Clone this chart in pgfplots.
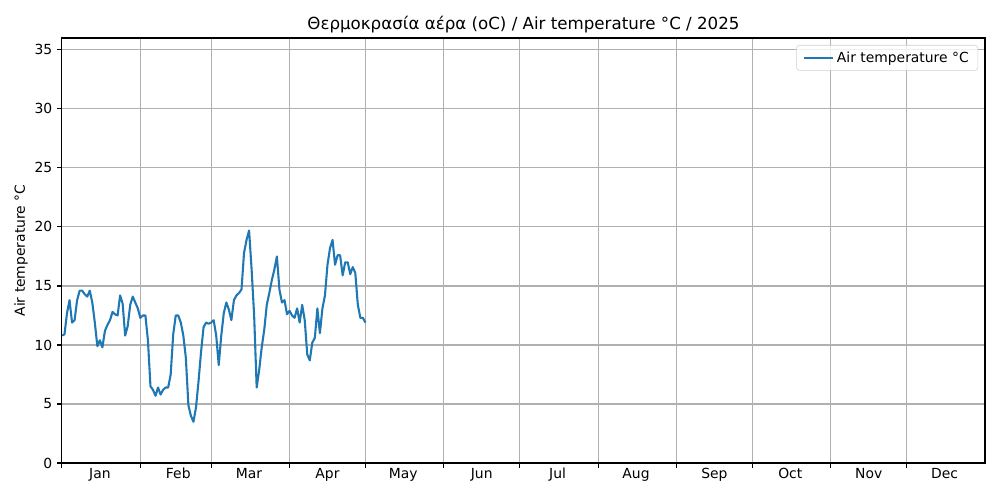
\documentclass[border=0pt]{standalone}
\usepackage{fontspec}
\setmainfont{DejaVu Sans}
\usepackage{pgfplots}
\pgfplotsset{compat=1.18}
\definecolor{mplblue}{HTML}{1F77B4}
\definecolor{gridgray}{HTML}{B0B0B0}

% daily air temperature, day of year (0 = 1 Jan)
\pgfplotstableread{
d t
0 10.8
1 10.9
2 12.7
3 13.8
4 11.9
5 12.1
6 13.8
7 14.6
8 14.6
9 14.3
10 14.1
11 14.6
12 13.6
13 11.9
14 9.9
15 10.4
16 9.8
17 11.2
18 11.7
19 12.1
20 12.8
21 12.6
22 12.5
23 14.2
24 13.5
25 10.8
26 11.6
27 13.4
28 14.1
29 13.6
30 13.1
31 12.3
32 12.5
33 12.5
34 10.4
35 6.5
36 6.2
37 5.7
38 6.4
39 5.8
40 6.2
41 6.4
42 6.4
43 7.5
44 10.9
45 12.5
46 12.5
47 11.9
48 10.8
49 8.9
50 4.9
51 4.0
52 3.5
53 4.7
54 6.9
55 9.4
56 11.5
57 11.9
58 11.8
59 11.9
60 12.1
61 10.8
62 8.3
63 10.8
64 12.7
65 13.6
66 13.0
67 12.1
68 13.8
69 14.2
70 14.4
71 14.7
72 17.8
73 18.9
74 19.7
75 16.4
76 12.5
77 6.4
78 7.9
79 9.8
80 11.3
81 13.4
82 14.4
83 15.5
84 16.4
85 17.5
86 14.7
87 13.6
88 13.8
89 12.6
90 12.9
91 12.5
92 12.3
93 13.1
94 11.9
95 13.4
96 12.1
97 9.2
98 8.7
99 10.2
100 10.6
101 13.1
102 11.0
103 13.1
104 14.2
105 16.8
106 18.2
107 18.9
108 16.8
109 17.6
110 17.6
111 15.9
112 17.0
113 17.0
114 16.0
115 16.6
116 16.1
117 13.4
118 12.3
119 12.3
120 11.9
}\temps

\begin{document}
\begin{tikzpicture}
\begin{axis}[
    name=ax,
    width=664.6pt, height=306pt, scale only axis,
    xmin=0, xmax=365, ymin=0, ymax=36,
    xtick={0,31,59,90,120,151,181,212,243,273,304,334},
    xticklabels={},
    extra x ticks={15,46,74,105,135,166,196,227,258,288,319,349},
    extra x tick labels={Jan,Feb,Mar,Apr,May,Jun,Jul,Aug,Sep,Oct,Nov,Dec},
    extra x tick style={grid=none, major tick length=0pt},
    ytick={0,5,...,35},
    xtick pos=lower, ytick pos=left,
    tick align=outside,
    major tick length=3.5pt,
    tick style={black, line width=0.8pt},
    axis line style={line width=0.8pt},
    grid=major,
    grid style={gridgray, line width=0.8pt},
    tick label style={font=\fontsize{10}{12}\selectfont},
    /pgf/number format/assume math mode=true,
    title={Θερμοκρασία αέρα (oC) / Air temperature °C / 2025},
    title style={font=\fontsize{12}{14}\selectfont, yshift=-6pt},
    ylabel={Air temperature °C},
    ylabel style={font=\fontsize{10}{12}\selectfont, yshift=-2pt},
    legend cell align=left,
    legend image code/.code={\draw[#1] (0pt,0pt) -- (21pt,0pt);},
    legend style={at={(1,1)}, anchor=north east, xshift=-5pt, yshift=-5pt,
        font=\fontsize{10}{12}\selectfont, draw=gridgray!60, fill=white,
        fill opacity=0.8, text opacity=1, rounded corners=2pt,
        inner xsep=4.5pt, inner ysep=2.5pt},
]
\addplot[mplblue, line width=1.5pt, line join=round] table[x=d, y=t] {\temps};
\addlegendentry{Air temperature °C}
\end{axis}
\pgfresetboundingbox
\path[use as bounding box] ([xshift=-44.6pt, yshift=-26.6pt]ax.south west) rectangle ([xshift=10.8pt, yshift=27.4pt]ax.north east);
\end{tikzpicture}
\end{document}
